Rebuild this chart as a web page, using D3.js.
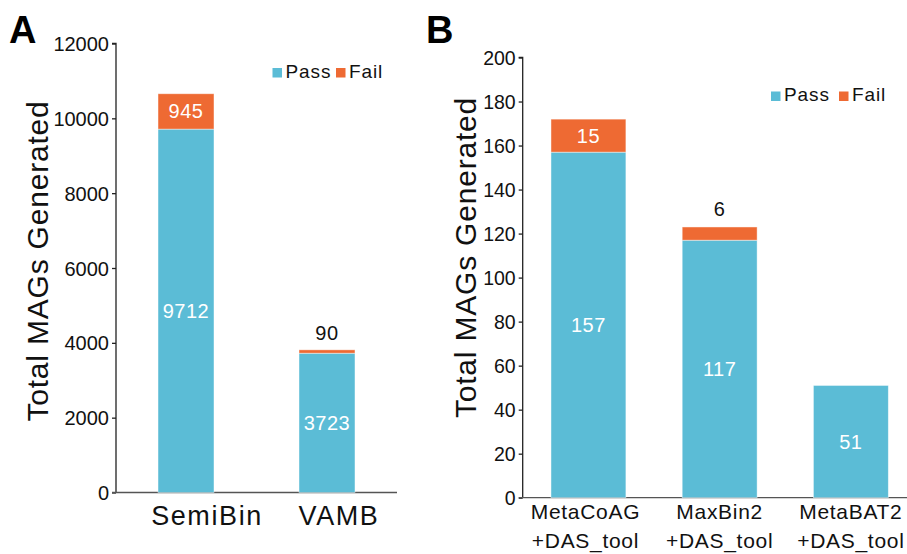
<!DOCTYPE html>
<html>
<head>
<meta charset="utf-8">
<script src="https://cdn.jsdelivr.net/npm/d3@7"></script>
<style>
  body { margin: 0; background: #fff; }
  svg { display: block; font-family: Arial, "Liberation Sans", sans-serif; }
</style>
</head>
<body>
<svg id="chart" width="907" height="554"></svg>
<script>
// Panel A: single binners
const toolsA = ["SemiBin", "VAMB"];
const passA = [9712, 3723];
const failA = [945, 90];
const ticksA = [0, 2000, 4000, 6000, 8000, 10000, 12000];

// Panel B: binners refined with DAS_tool
const toolsB = [["MetaCoAG", "+DAS_tool"], ["MaxBin2", "+DAS_tool"], ["MetaBAT2", "+DAS_tool"]];
const passB = [157, 117, 51];
const failB = [15, 6, 0];
const ticksB = [0, 20, 40, 60, 80, 100, 120, 140, 160, 180, 200];

const seriesNames = ["Pass", "Fail"];
const colors = { Pass: "#5bbcd6", Fail: "#ee6a33" };

const svg = d3.select("#chart");

function panel(cfg) {
  const g = svg.append("g");
  const keys = cfg.cats.map((c, i) => i);
  const x = d3.scaleBand().domain(keys).range([cfg.x0, cfg.x1]).paddingInner(cfg.padIn).paddingOuter(cfg.padOut);
  const y = d3.scaleLinear().domain([0, cfg.max]).range([cfg.y0, cfg.y1]);

  // y axis
  const ya = g.append("g").attr("transform", `translate(${cfg.axisX},0)`)
    .call(d3.axisLeft(y).tickValues(cfg.ticks).tickSize(4).tickPadding(3).tickFormat(d3.format("d")));
  ya.select(".domain").attr("stroke", "#222").attr("stroke-width", 1.3).attr("d", `M-4,${cfg.y1}H0V${cfg.y0}`);
  ya.selectAll(".tick line").attr("stroke", "#222").attr("stroke-width", 1.3);
  ya.selectAll(".tick text").attr("fill", "#111").style("font-size", cfg.tickFont + "px").attr("dy", "0.35em");

  // x axis baseline
  g.append("line").attr("x1", cfg.axisX - 4).attr("x2", cfg.xEnd).attr("y1", y(0)).attr("y2", y(0))
    .attr("stroke", "#555").attr("stroke-width", 1.3);

  // stacked bars
  const rows = keys.map(i => ({ i, Pass: cfg.pass[i], Fail: cfg.fail[i] }));
  const stacked = d3.stack().keys(seriesNames)(rows);
  g.selectAll("g.layer").data(stacked).join("g").attr("class", "layer")
    .attr("fill", d => colors[d.key])
    .selectAll("rect").data(d => d).join("rect")
    .attr("x", d => x(d.data.i))
    .attr("width", x.bandwidth())
    .attr("y", d => y(d[1]))
    .attr("height", d => y(d[0]) - y(d[1]))
    .attr("stroke", "rgba(255,255,255,0.55)").attr("stroke-width", 0.8);

  // value labels
  keys.forEach(i => {
    const cx = x(i) + x.bandwidth() / 2;
    const p = cfg.pass[i], f = cfg.fail[i];
    g.append("text").attr("x", cx).attr("y", (y(0) + y(p)) / 2).attr("dy", "0.35em")
      .attr("text-anchor", "middle").attr("fill", "#fff").style("font-size", cfg.valFont + "px")
      .style("letter-spacing", "0.5px").text(p);
    if (f > 0) {
      const segH = y(p) - y(p + f);
      const inside = segH > cfg.valFont + 4;
      g.append("text").attr("x", cx)
        .attr("y", inside ? (y(p) + y(p + f)) / 2 : y(p + f) - cfg.aboveGap)
        .attr("dy", "0.35em").attr("text-anchor", "middle")
        .attr("fill", inside ? "#fff" : "#111").style("font-size", cfg.valFont + "px")
        .style("letter-spacing", "0.5px").text(f);
    }
  });

  // category labels
  keys.forEach(i => {
    const lines = Array.isArray(cfg.cats[i]) ? cfg.cats[i] : [cfg.cats[i]];
    const t = g.append("text").attr("text-anchor", "middle").attr("fill", "#111")
      .style("font-size", cfg.catFont + "px").style("letter-spacing", cfg.catSpacing + "px");
    lines.forEach((ln, k) => {
      t.append("tspan").attr("x", x(i) + x.bandwidth() / 2 + cfg.catDx[i]).attr("y", cfg.catY + k * cfg.catLine)
        .attr("dy", "0.35em").text(ln);
    });
  });

  // y title
  g.append("text").attr("transform", `translate(${cfg.titleX},${cfg.titleY}) rotate(-90)`)
    .attr("text-anchor", "middle").attr("fill", "#111").style("font-size", "30px")
    .style("letter-spacing", "0.8px").text("Total MAGs Generated");

  // panel letter
  g.append("text").attr("x", cfg.letterX).attr("y", 43).attr("fill", "#000")
    .style("font-size", "38px").style("font-weight", "bold").text(cfg.letter);

  // legend
  const lg = g.append("g").attr("transform", `translate(${cfg.legX},${cfg.legY})`);
  let off = 0;
  seriesNames.forEach((s, k) => {
    lg.append("rect").attr("x", off).attr("y", -9.5).attr("width", 9.5).attr("height", 9.5).attr("fill", colors[s]);
    lg.append("text").attr("x", off + 13).attr("y", 0).attr("fill", "#111")
      .style("font-size", "19px").style("letter-spacing", "0.9px").text(s);
    off += k === 0 ? cfg.legStep : 0;
  });
}

panel({
  letter: "A", letterX: 9,
  cats: toolsA, pass: passA, fail: failA, ticks: ticksA, max: 12000,
  x0: 116, x1: 397, padIn: 0.603, padOut: 0.298, axisX: 116, xEnd: 397,
  y0: 492.5, y1: 43.5, tickFont: 20, valFont: 20, aboveGap: 17,
  catFont: 27, catSpacing: 1.6, catY: 516, catLine: 0, catDx: [21, 12],
  titleX: 48, titleY: 261, legX: 272.5, legY: 77.5, legStep: 63.5
});

panel({
  letter: "B", letterX: 426,
  cats: toolsB, pass: passB, fail: failB, ticks: ticksB, max: 200,
  x0: 522.7, x1: 916.6, padIn: 0.429, padOut: 0.2155, axisX: 522.7, xEnd: 907,
  y0: 497.7, y1: 57.5, tickFont: 19.5, valFont: 20, aboveGap: 18,
  catFont: 21, catSpacing: 0.7, catY: 512, catLine: 28.5, catDx: [-3, 0, 0],
  titleX: 476, titleY: 257.5, legX: 771, legY: 101, legStep: 68
});
</script>
</body>
</html>
